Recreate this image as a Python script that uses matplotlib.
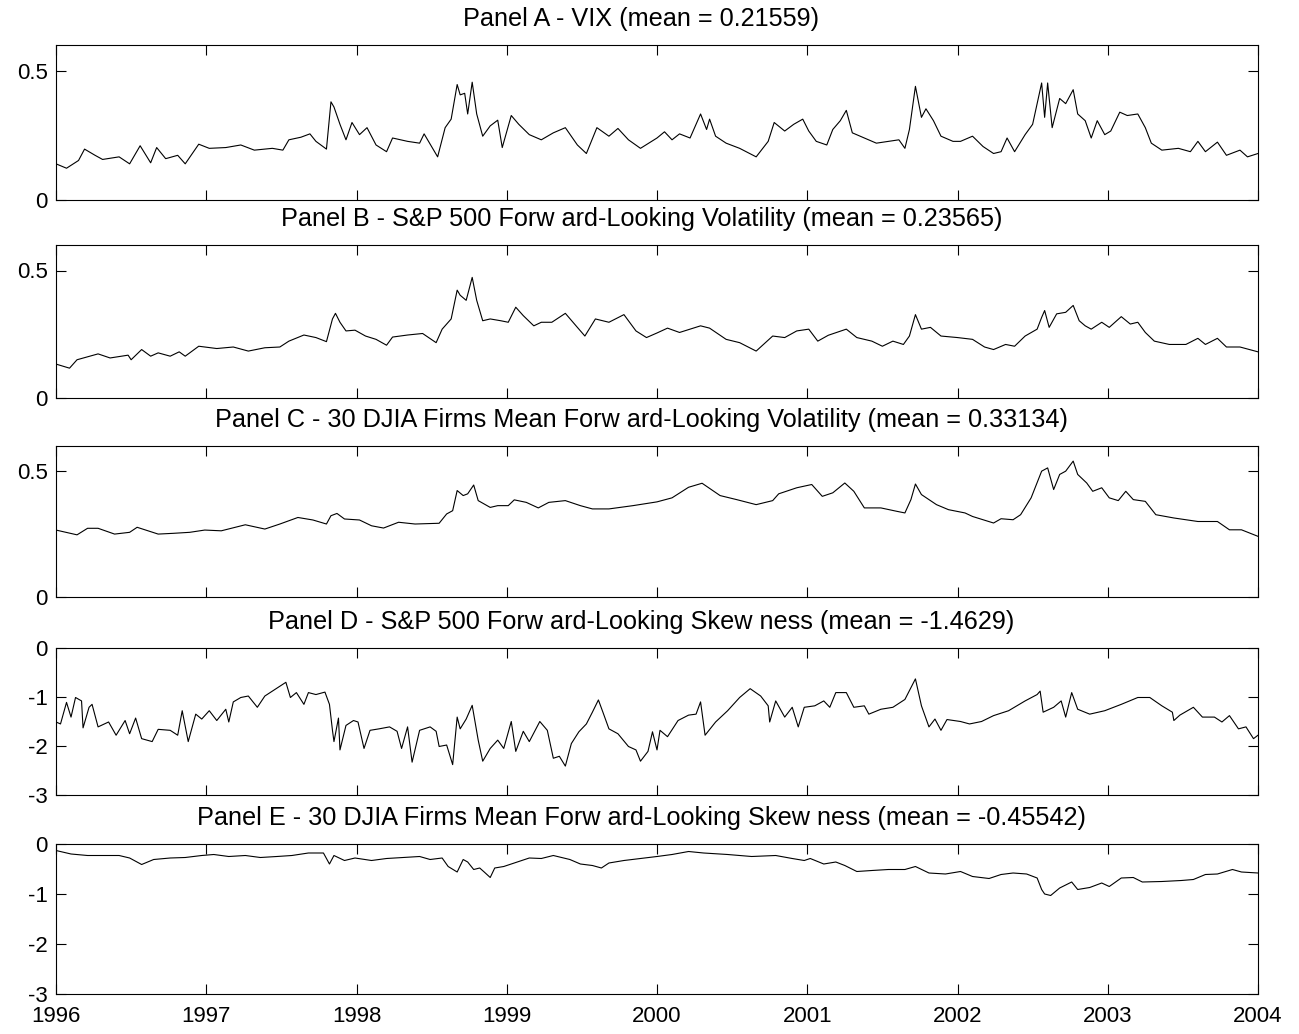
import matplotlib
matplotlib.use("Agg")
import matplotlib.pyplot as plt
import numpy as np

plt.rcParams['font.family'] = ['Liberation Sans', 'DejaVu Sans']

# ---------------- data (decimal years) ----------------
vix_t = [1996.00, 1996.07, 1996.15, 1996.19, 1996.26, 1996.31, 1996.42, 1996.49, 1996.56, 1996.63,
         1996.67, 1996.73, 1996.81, 1996.86, 1996.95, 1997.02, 1997.13, 1997.23, 1997.32, 1997.44,
         1997.51, 1997.55, 1997.63, 1997.69, 1997.73, 1997.80, 1997.83, 1997.85, 1997.89, 1997.93,
         1997.97, 1998.02, 1998.07, 1998.13, 1998.20, 1998.24, 1998.34, 1998.42, 1998.45, 1998.54,
         1998.59, 1998.63, 1998.67, 1998.69, 1998.72, 1998.74, 1998.77, 1998.80, 1998.84, 1998.89,
         1998.94, 1998.97, 1999.03, 1999.08, 1999.15, 1999.23, 1999.31, 1999.39, 1999.47, 1999.53,
         1999.60, 1999.68, 1999.74, 1999.81, 1999.89, 2000.00, 2000.05, 2000.10, 2000.15, 2000.22,
         2000.29, 2000.33, 2000.35, 2000.39, 2000.46, 2000.55, 2000.66, 2000.74, 2000.78, 2000.85,
         2000.91, 2000.97, 2001.01, 2001.06, 2001.13, 2001.17, 2001.22, 2001.26, 2001.30, 2001.38,
         2001.46, 2001.54, 2001.61, 2001.65, 2001.68, 2001.72, 2001.76, 2001.79, 2001.84, 2001.89,
         2001.97, 2002.02, 2002.10, 2002.17, 2002.24, 2002.29, 2002.33, 2002.38, 2002.45, 2002.50,
         2002.56, 2002.58, 2002.60, 2002.63, 2002.68, 2002.72, 2002.77, 2002.80, 2002.85, 2002.89,
         2002.93, 2002.98, 2003.02, 2003.08, 2003.13, 2003.20, 2003.25, 2003.29, 2003.36, 2003.47,
         2003.55, 2003.60, 2003.65, 2003.73, 2003.79, 2003.88, 2003.93, 2004.00]
vix_v = [0.140, 0.123, 0.153, 0.197, 0.173, 0.157, 0.167, 0.140, 0.210, 0.144,
         0.203, 0.160, 0.173, 0.140, 0.216, 0.200, 0.203, 0.213, 0.193, 0.200,
         0.193, 0.233, 0.243, 0.256, 0.227, 0.197, 0.380, 0.360, 0.293, 0.233,
         0.300, 0.253, 0.280, 0.213, 0.187, 0.240, 0.227, 0.220, 0.256, 0.167,
         0.280, 0.313, 0.447, 0.407, 0.413, 0.333, 0.456, 0.333, 0.247, 0.287,
         0.309, 0.203, 0.327, 0.293, 0.253, 0.233, 0.260, 0.280, 0.213, 0.180,
         0.280, 0.247, 0.277, 0.233, 0.200, 0.240, 0.264, 0.233, 0.256, 0.240,
         0.333, 0.273, 0.313, 0.247, 0.220, 0.200, 0.167, 0.227, 0.300, 0.267,
         0.293, 0.313, 0.267, 0.227, 0.213, 0.273, 0.307, 0.347, 0.260, 0.240,
         0.220, 0.227, 0.233, 0.200, 0.273, 0.440, 0.320, 0.353, 0.307, 0.247,
         0.227, 0.227, 0.247, 0.207, 0.180, 0.187, 0.240, 0.187, 0.253, 0.293,
         0.453, 0.320, 0.453, 0.280, 0.393, 0.373, 0.427, 0.333, 0.307, 0.240,
         0.307, 0.253, 0.267, 0.340, 0.327, 0.333, 0.280, 0.220, 0.193, 0.200,
         0.187, 0.227, 0.187, 0.224, 0.173, 0.193, 0.167, 0.180]

spvol_t = [1996.00, 1996.09, 1996.14, 1996.28, 1996.36, 1996.48, 1996.50, 1996.57, 1996.63, 1996.68,
           1996.76, 1996.82, 1996.86, 1996.95, 1997.07, 1997.18, 1997.28, 1997.39, 1997.49, 1997.55,
           1997.65, 1997.73, 1997.80, 1997.84, 1997.86, 1997.89, 1997.93, 1997.99, 1998.06, 1998.13,
           1998.20, 1998.24, 1998.34, 1998.44, 1998.53, 1998.57, 1998.63, 1998.67, 1998.69, 1998.73,
           1998.77, 1998.80, 1998.84, 1998.89, 1998.96, 1999.01, 1999.06, 1999.11, 1999.18, 1999.23,
           1999.30, 1999.39, 1999.47, 1999.52, 1999.59, 1999.68, 1999.78, 1999.86, 1999.93, 2000.00,
           2000.07, 2000.15, 2000.29, 2000.35, 2000.46, 2000.55, 2000.66, 2000.77, 2000.85, 2000.93,
           2001.01, 2001.07, 2001.14, 2001.26, 2001.33, 2001.43, 2001.50, 2001.57, 2001.64, 2001.68,
           2001.72, 2001.76, 2001.82, 2001.89, 2002.00, 2002.10, 2002.18, 2002.24, 2002.32, 2002.38,
           2002.45, 2002.53, 2002.56, 2002.58, 2002.61, 2002.66, 2002.72, 2002.77, 2002.81, 2002.85,
           2002.89, 2002.96, 2003.01, 2003.09, 2003.15, 2003.20, 2003.25, 2003.31, 2003.41, 2003.52,
           2003.60, 2003.65, 2003.73, 2003.79, 2003.88, 2004.00]
spvol_v = [0.133, 0.117, 0.150, 0.173, 0.157, 0.168, 0.150, 0.190, 0.164, 0.177,
           0.164, 0.181, 0.164, 0.203, 0.194, 0.200, 0.184, 0.197, 0.200, 0.223,
           0.247, 0.237, 0.221, 0.310, 0.332, 0.297, 0.263, 0.266, 0.243, 0.230,
           0.207, 0.239, 0.247, 0.253, 0.217, 0.270, 0.310, 0.423, 0.403, 0.383,
           0.473, 0.383, 0.303, 0.310, 0.303, 0.297, 0.356, 0.323, 0.283, 0.297,
           0.297, 0.332, 0.277, 0.243, 0.310, 0.297, 0.327, 0.263, 0.237, 0.255,
           0.274, 0.257, 0.283, 0.274, 0.230, 0.217, 0.184, 0.243, 0.237, 0.263,
           0.270, 0.223, 0.246, 0.270, 0.237, 0.223, 0.203, 0.223, 0.210, 0.243,
           0.327, 0.270, 0.277, 0.243, 0.237, 0.230, 0.200, 0.190, 0.210, 0.203,
           0.243, 0.270, 0.316, 0.343, 0.277, 0.330, 0.336, 0.363, 0.303, 0.283,
           0.270, 0.297, 0.277, 0.319, 0.290, 0.297, 0.257, 0.223, 0.210, 0.210,
           0.234, 0.210, 0.234, 0.200, 0.200, 0.181]

djvol_t = [1996.00, 1996.14, 1996.21, 1996.28, 1996.39, 1996.49, 1996.54, 1996.68, 1996.78, 1996.89,
           1996.99, 1997.10, 1997.26, 1997.39, 1997.49, 1997.61, 1997.71, 1997.80, 1997.83, 1997.87,
           1997.92, 1998.02, 1998.10, 1998.18, 1998.28, 1998.39, 1998.55, 1998.60, 1998.64, 1998.67,
           1998.71, 1998.74, 1998.78, 1998.81, 1998.89, 1998.94, 1999.01, 1999.05, 1999.13, 1999.21,
           1999.28, 1999.39, 1999.49, 1999.57, 1999.68, 1999.84, 2000.00, 2000.10, 2000.21, 2000.30,
           2000.42, 2000.53, 2000.66, 2000.77, 2000.81, 2000.93, 2001.03, 2001.10, 2001.17, 2001.25,
           2001.31, 2001.38, 2001.49, 2001.60, 2001.65, 2001.69, 2001.72, 2001.76, 2001.86, 2001.94,
           2002.05, 2002.10, 2002.24, 2002.29, 2002.37, 2002.42, 2002.49, 2002.56, 2002.60, 2002.64,
           2002.68, 2002.72, 2002.77, 2002.80, 2002.86, 2002.90, 2002.96, 2003.01, 2003.07, 2003.12,
           2003.17, 2003.25, 2003.32, 2003.44, 2003.60, 2003.73, 2003.81, 2003.89, 2004.00]
djvol_v = [0.266, 0.247, 0.273, 0.273, 0.250, 0.257, 0.277, 0.250, 0.253, 0.257,
           0.266, 0.263, 0.287, 0.270, 0.290, 0.316, 0.306, 0.290, 0.323, 0.332,
           0.310, 0.306, 0.283, 0.274, 0.297, 0.290, 0.293, 0.330, 0.343, 0.423,
           0.403, 0.410, 0.445, 0.383, 0.356, 0.363, 0.363, 0.386, 0.376, 0.354,
           0.376, 0.383, 0.363, 0.350, 0.350, 0.363, 0.378, 0.394, 0.436, 0.452,
           0.403, 0.387, 0.367, 0.383, 0.410, 0.434, 0.447, 0.400, 0.414, 0.453,
           0.420, 0.354, 0.354, 0.340, 0.334, 0.387, 0.449, 0.407, 0.367, 0.347,
           0.334, 0.320, 0.294, 0.311, 0.307, 0.327, 0.394, 0.500, 0.513, 0.427,
           0.487, 0.500, 0.540, 0.487, 0.453, 0.420, 0.434, 0.394, 0.383, 0.420,
           0.387, 0.380, 0.327, 0.314, 0.300, 0.300, 0.267, 0.267, 0.241]

spskew_t = [1996.00, 1996.03, 1996.07, 1996.10, 1996.13, 1996.17, 1996.18, 1996.22, 1996.24, 1996.28,
            1996.35, 1996.40, 1996.46, 1996.49, 1996.53, 1996.57, 1996.64, 1996.68, 1996.76, 1996.81,
            1996.84, 1996.88, 1996.93, 1996.97, 1997.02, 1997.07, 1997.13, 1997.15, 1997.18, 1997.23,
            1997.28, 1997.34, 1997.39, 1997.44, 1997.49, 1997.53, 1997.56, 1997.60, 1997.65, 1997.68,
            1997.73, 1997.79, 1997.82, 1997.84, 1997.85, 1997.88, 1997.89, 1997.93, 1997.98, 1998.01,
            1998.05, 1998.09, 1998.15, 1998.22, 1998.27, 1998.30, 1998.34, 1998.37, 1998.42, 1998.49,
            1998.53, 1998.55, 1998.60, 1998.64, 1998.67, 1998.69, 1998.73, 1998.77, 1998.81, 1998.84,
            1998.89, 1998.94, 1998.98, 1999.03, 1999.06, 1999.11, 1999.15, 1999.22, 1999.27, 1999.31,
            1999.35, 1999.39, 1999.43, 1999.48, 1999.53, 1999.57, 1999.61, 1999.64, 1999.68, 1999.74,
            1999.81, 1999.86, 1999.89, 1999.94, 1999.97, 2000.00, 2000.02, 2000.07, 2000.14, 2000.21,
            2000.26, 2000.29, 2000.32, 2000.39, 2000.47, 2000.55, 2000.62, 2000.69, 2000.74, 2000.75,
            2000.79, 2000.85, 2000.90, 2000.94, 2000.98, 2001.05, 2001.11, 2001.15, 2001.19, 2001.26,
            2001.31, 2001.38, 2001.41, 2001.49, 2001.57, 2001.65, 2001.72, 2001.76, 2001.81, 2001.85,
            2001.89, 2001.93, 2002.02, 2002.08, 2002.16, 2002.24, 2002.34, 2002.45, 2002.53, 2002.55,
            2002.57, 2002.64, 2002.69, 2002.72, 2002.76, 2002.80, 2002.88, 2002.98, 2003.09, 2003.20,
            2003.28, 2003.36, 2003.43, 2003.44, 2003.48, 2003.57, 2003.63, 2003.71, 2003.76, 2003.81,
            2003.87, 2003.92, 2003.97, 2004.00]
spskew_v = [-1.51, -1.55, -1.11, -1.41, -1.01, -1.08, -1.63, -1.21, -1.15, -1.61,
            -1.51, -1.78, -1.48, -1.75, -1.43, -1.85, -1.91, -1.66, -1.68, -1.78,
            -1.28, -1.91, -1.35, -1.45, -1.28, -1.48, -1.25, -1.51, -1.10, -1.01,
            -0.98, -1.21, -0.98, -0.88, -0.78, -0.70, -1.01, -0.91, -1.15, -0.91,
            -0.95, -0.90, -1.15, -1.68, -1.91, -1.43, -2.08, -1.58, -1.48, -1.51,
            -2.05, -1.68, -1.65, -1.61, -1.70, -2.05, -1.61, -2.33, -1.68, -1.61,
            -1.70, -2.01, -1.98, -2.38, -1.41, -1.65, -1.45, -1.17, -1.88, -2.31,
            -2.05, -1.88, -2.05, -1.50, -2.11, -1.70, -1.91, -1.50, -1.68, -2.25,
            -2.21, -2.41, -1.95, -1.71, -1.55, -1.31, -1.06, -1.31, -1.65, -1.75,
            -2.01, -2.08, -2.31, -2.11, -1.71, -2.08, -1.68, -1.81, -1.48, -1.37,
            -1.35, -1.10, -1.78, -1.51, -1.28, -1.01, -0.83, -0.98, -1.18, -1.51,
            -1.08, -1.41, -1.21, -1.61, -1.21, -1.18, -1.08, -1.21, -0.91, -0.91,
            -1.21, -1.18, -1.35, -1.25, -1.21, -1.05, -0.63, -1.18, -1.61, -1.45,
            -1.68, -1.46, -1.50, -1.55, -1.50, -1.38, -1.28, -1.08, -0.95, -0.88,
            -1.31, -1.21, -1.08, -1.41, -0.91, -1.25, -1.35, -1.28, -1.15, -1.01,
            -1.01, -1.18, -1.31, -1.48, -1.37, -1.21, -1.41, -1.41, -1.51, -1.38,
            -1.65, -1.61, -1.85, -1.78]

djskew_t = [1996.00, 1996.10, 1996.21, 1996.31, 1996.42, 1996.49, 1996.57, 1996.65, 1996.76, 1996.86,
            1996.97, 1997.05, 1997.15, 1997.26, 1997.36, 1997.47, 1997.57, 1997.68, 1997.78, 1997.82,
            1997.85, 1997.92, 1997.99, 1998.10, 1998.20, 1998.31, 1998.42, 1998.49, 1998.57, 1998.61,
            1998.67, 1998.71, 1998.74, 1998.78, 1998.82, 1998.85, 1998.89, 1998.92, 1998.98, 1999.05,
            1999.15, 1999.23, 1999.31, 1999.42, 1999.49, 1999.57, 1999.63, 1999.68, 1999.78, 1999.89,
            2000.00, 2000.10, 2000.21, 2000.31, 2000.47, 2000.63, 2000.79, 2000.90, 2000.98, 2001.02,
            2001.11, 2001.19, 2001.25, 2001.33, 2001.43, 2001.54, 2001.65, 2001.72, 2001.81, 2001.92,
            2002.02, 2002.10, 2002.21, 2002.29, 2002.37, 2002.46, 2002.53, 2002.56, 2002.58, 2002.62,
            2002.68, 2002.76, 2002.80, 2002.88, 2002.96, 2003.01, 2003.09, 2003.17, 2003.23, 2003.36,
            2003.49, 2003.57, 2003.65, 2003.73, 2003.83, 2003.89, 2004.00]
djskew_v = [-0.13, -0.20, -0.23, -0.23, -0.23, -0.28, -0.41, -0.31, -0.28, -0.27,
            -0.23, -0.21, -0.25, -0.23, -0.27, -0.25, -0.23, -0.18, -0.18, -0.40,
            -0.23, -0.33, -0.28, -0.33, -0.29, -0.27, -0.25, -0.31, -0.28, -0.45,
            -0.56, -0.31, -0.36, -0.51, -0.48, -0.56, -0.67, -0.48, -0.45, -0.38,
            -0.28, -0.29, -0.23, -0.31, -0.40, -0.43, -0.48, -0.38, -0.33, -0.29,
            -0.25, -0.21, -0.15, -0.18, -0.21, -0.25, -0.23, -0.29, -0.33, -0.29,
            -0.40, -0.36, -0.43, -0.55, -0.53, -0.51, -0.51, -0.45, -0.58, -0.60,
            -0.55, -0.65, -0.69, -0.61, -0.58, -0.60, -0.68, -0.91, -1.00, -1.03,
            -0.88, -0.76, -0.91, -0.87, -0.78, -0.85, -0.68, -0.67, -0.76, -0.75,
            -0.73, -0.71, -0.61, -0.60, -0.51, -0.56, -0.58]

titles = ["Panel A - VIX (mean = 0.21559)",
          "Panel B - S&P 500 Forw ard-Looking Volatility (mean = 0.23565)",
          "Panel C - 30 DJIA Firms Mean Forw ard-Looking Volatility (mean = 0.33134)",
          "Panel D - S&P 500 Forw ard-Looking Skew ness (mean = -1.4629)",
          "Panel E - 30 DJIA Firms Mean Forw ard-Looking Skew ness (mean = -0.45542)"]

year_ticks = [1996, 1997, 1998, 1999, 2000, 2001, 2002, 2003, 2004]
vol_ticks = [0, 0.5]
vol_ticklabels = ["0", "0.5"]
skew_ticks = [-3, -2, -1, 0]
skew_ticklabels = ["-3", "-2", "-1", "0"]

series = [(vix_t, vix_v), (spvol_t, spvol_v), (djvol_t, djvol_v),
          (spskew_t, spskew_v), (djskew_t, djskew_v)]

# ---------------- layout ----------------
W, H = 1299, 1034
fig = plt.figure(figsize=(W / 100, H / 100), dpi=100)
boxes_px = [(45, 200), (245, 398), (446, 597), (648, 795), (844, 994)]
left_px, right_px = 56, 1258

for i, ((t, v), (top, bot)) in enumerate(zip(series, boxes_px)):
    ax = fig.add_axes([left_px / W, 1 - bot / H, (right_px - left_px) / W, (bot - top) / H])
    ax.plot(t, v, color='black', linewidth=0.8)
    ax.set_xlim(1996, 2004)
    if i < 3:
        ax.set_ylim(0, 0.6)
        ax.set_yticks(vol_ticks)
        ax.set_yticklabels(vol_ticklabels)
    else:
        ax.set_ylim(-3, 0)
        ax.set_yticks(skew_ticks)
        ax.set_yticklabels(skew_ticklabels)
    ax.set_xticks(year_ticks)
    ax.tick_params(direction='in', top=True, right=True, length=7, width=0.8,
                   labelsize=16, pad=6)
    for s in ax.spines.values():
        s.set_linewidth(0.8)
    ax.set_title(titles[i], fontsize=18.2, pad=13.5, x=0.487)
    if i < 4:
        ax.set_xticklabels([])
    else:
        ax.set_xticklabels([str(y) for y in year_ticks])
        ax.tick_params(axis='x', pad=9)

fig.savefig("out.png", dpi=100)
